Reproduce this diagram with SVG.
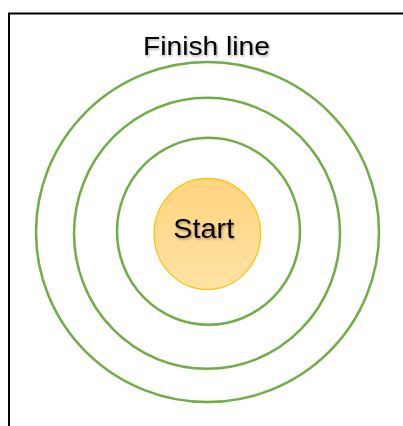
<svg xmlns="http://www.w3.org/2000/svg" width="403" height="426" viewBox="0 0 403 426">
  <style>
    .ring { fill: none; stroke: #70AD47; stroke-width: 2.5; }
    .lbl { font-family: "Liberation Sans", Arial, sans-serif; fill: #000; filter: url(#sh); }
  </style>
  <defs>
    <linearGradient id="gold" x1="0" y1="0" x2="0" y2="1">
      <stop offset="0" stop-color="#FFD47E"/>
      <stop offset="1" stop-color="#FFE2A5"/>
    </linearGradient>
    <filter id="sh" x="-10%" y="-20%" width="130%" height="150%">
      <feDropShadow dx="1" dy="1.5" stdDeviation="1" flood-color="#000" flood-opacity="0.35"/>
    </filter>
  </defs>
  <rect x="0" y="0" width="403" height="426" fill="#fff"/>
  <rect id="frame" x="9" y="13.5" width="400" height="420" fill="none" stroke="#000" stroke-width="2"/>
  <g id="connectors"></g>
  <g id="outer-ring"><ellipse class="ring" cx="207.5" cy="232" rx="171.5" ry="170"/></g>
  <g id="middle-ring"><ellipse class="ring" cx="207" cy="233.3" rx="133" ry="135.5"/></g>
  <g id="inner-ring"><ellipse class="ring" cx="208.5" cy="231.3" rx="91.5" ry="93.5"/></g>
  <g id="start">
    <ellipse cx="207.3" cy="233.8" rx="53.3" ry="55.5" fill="url(#gold)" stroke="#FFC000" stroke-width="1.2"/>
    <text class="lbl" x="203.7" y="238.3" font-size="28" text-anchor="middle" textLength="61" lengthAdjust="spacingAndGlyphs">Start</text>
  </g>
  <g id="finish-line">
    <text class="lbl" x="206.5" y="55" font-size="26" text-anchor="middle" textLength="127" lengthAdjust="spacingAndGlyphs">Finish line</text>
  </g>
</svg>
